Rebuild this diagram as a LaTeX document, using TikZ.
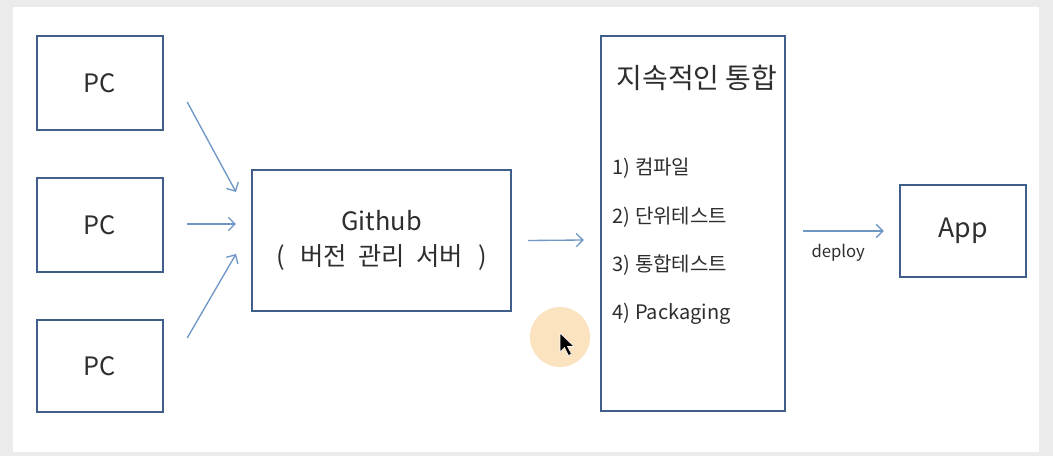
\documentclass[tikz,border=0pt]{standalone}
\usepackage{fontspec}
\setmainfont{Noto Sans CJK KR}
\usetikzlibrary{arrows.meta}

\definecolor{boxline}{HTML}{3F5F8A}
\definecolor{flowline}{HTML}{6F97C6}
\definecolor{inktext}{HTML}{2E2E2E}
\definecolor{pagegray}{HTML}{EBEBEB}
\definecolor{spot}{HTML}{FBE3BF}

\begin{document}
\begin{tikzpicture}
      [
        x=0.75pt, y=-0.75pt,
        box/.style={draw=boxline, line width=1.8pt, fill=white, text=inktext,
          inner sep=0pt, align=center},
        flow/.style={draw=flowline, line width=1pt,
          -{Straight Barb[length=5pt,width=10pt]}},
        item/.style={anchor=west, text=inktext, font=\fontsize{15}{17}\selectfont}
      ]
      % page
      \fill[pagegray] (0,0) rectangle (1053,456);
      \fill[white] (13,7) rectangle (1039,452);
      \useasboundingbox (0,0) rectangle (1053,456);
      % boxes
      \node [box, minimum width=94.5pt, minimum height=70.5pt,
        font=\fontsize{19}{21}\selectfont] (pc1) at (100,83) {PC};
      \node [box, minimum width=94.5pt, minimum height=70.5pt,
        font=\fontsize{19}{21}\selectfont] (pc2) at (100,225) {PC};
      \node [box, minimum width=94.5pt, minimum height=69pt,
        font=\fontsize{19}{21}\selectfont] (pc3) at (100,366) {PC};
      \node [box, minimum width=194pt, minimum height=105.75pt,
        font=\fontsize{19}{26}\selectfont] (github) at (381.5,240.5)
        {Github\\(\hspace{0.6em}버전\hspace{0.45em}관리\hspace{0.45em}서버\hspace{0.6em})};
      \node [box, minimum width=138pt, minimum height=281pt] (ci) at (693,223.5) {};
      \node [box, minimum width=94.5pt, minimum height=69pt,
        font=\fontsize{20}{22}\selectfont] (app) at (963,231) {App};
      % labels
      \node [text=inktext, font=\fontsize{21}{24}\selectfont] (title) at (697,78) {지속적인 통합};
      \node [item] (step1) at (608,168) {1) 컴파일};
      \node [item] (step2) at (608,217) {2) 단위테스트};
      \node [item] (step3) at (608,265) {3) 통합테스트};
      \node [item] (step4) at (608,314) {4) Packaging};
      % arcs
      \draw [flow] ([shift={(23,19)}]pc1.east) -- ([shift={(-15,-48.5)}]github.west);
      \draw [flow] ([shift={(23,-1)}]pc2.east) -- ([shift={(-15,-16.5)}]github.west);
      \draw [flow] ([shift={(23,-28)}]pc3.east) -- ([shift={(-15,13.5)}]github.west);
      \draw [flow] ([shift={(16,0)}]github.east) -- ([shift={(-16,16.5)}]ci.west);
      \draw [flow] ([shift={(17,7.5)}]ci.east) -- ([shift={(-15,0)}]app.west)
        node [midway, below=6pt, xshift=-4pt, text=inktext,
          font=\fontsize{12.5}{14}\selectfont] (deploy) {deploy};
      % pointer
      \fill[spot] (560,337) circle (30);
      \filldraw[black, draw=white, line width=0.4pt]
        (560,333) -- (560,352) -- (564.5,347.5) -- (568.5,355.5) -- (571.5,354)
        -- (567.5,346.5) -- (574,346.5) -- cycle;
\end{tikzpicture}
\end{document}
